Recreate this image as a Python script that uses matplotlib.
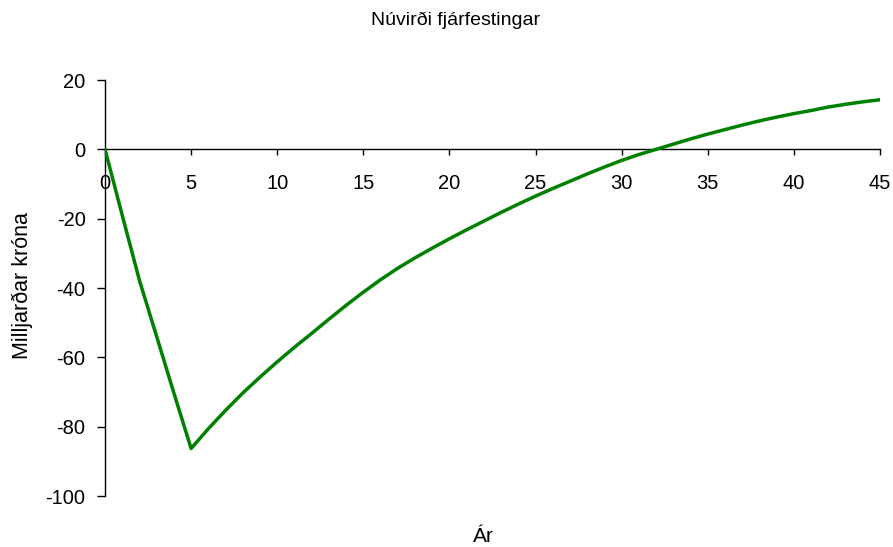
import matplotlib
matplotlib.use("Agg")
import matplotlib.pyplot as plt

plt.rcParams['font.family'] = ['Liberation Sans', 'DejaVu Sans']
plt.rcParams['axes.unicode_minus'] = False

# Net present value of the investment, billions of ISK, by year
years = list(range(0, 46))
npv = [
    0.0, -19.0, -37.8, -54.0, -70.3, -86.3,
    -80.6, -75.3, -70.3, -65.7, -61.3,
    -57.1, -53.1, -49.0, -45.0, -41.2,
    -37.6, -34.3, -31.3, -28.5, -25.8,
    -23.2, -20.7, -18.2, -15.8, -13.5,
    -11.3, -9.2, -7.1, -5.1, -3.2,
    -1.5, 0.0, 1.5, 3.0, 4.4,
    5.7, 7.0, 8.2, 9.3, 10.3,
    11.2, 12.2, 13.0, 13.7, 14.3,
]
x_ticks = [0, 5, 10, 15, 20, 25, 30, 35, 40, 45]
y_ticks = [20, 0, -20, -40, -60, -80, -100]

title = "Núvirði fjárfestingar"
x_label = "Ár"
y_label = "Milljarðar króna"

fig = plt.figure(figsize=(8.93, 5.47), dpi=100)
ax = fig.add_axes([105 / 893, 51 / 547, 775 / 893, 416 / 547])

ax.plot(years, npv, color="#008000", linewidth=2.5, zorder=3)

ax.set_xlim(0, 45)
ax.set_ylim(-100, 20)
ax.set_xticks(x_ticks)
ax.set_yticks(y_ticks)

# x axis drawn through zero, y axis on the left
ax.spines['bottom'].set_position(('data', 0))
ax.spines['top'].set_visible(False)
ax.spines['right'].set_visible(False)
for s in ('bottom', 'left'):
    ax.spines[s].set_linewidth(1.0)
    ax.spines[s].set_color('black')

ax.tick_params(axis='x', direction='out', length=4.5, width=1.0, pad=13, labelsize=14.5)
ax.tick_params(axis='y', direction='out', length=5.5, width=1.0, pad=8.5, labelsize=14.5)

fig.text(456 / 893, 1 - 20 / 547, title, ha='center', va='center', fontsize=14)
fig.text(483 / 893, 1 - 536 / 547, x_label, ha='center', va='center', fontsize=15)
fig.text(22 / 893, 1 - 286 / 547, y_label, ha='center', va='center', fontsize=15.5, rotation=90)

fig.savefig("out.png", dpi=100)
